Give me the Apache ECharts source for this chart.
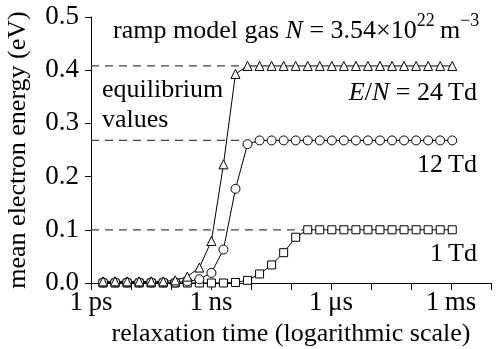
<!DOCTYPE html>
<html>
<head>
<meta charset="utf-8">
<script src="https://cdn.jsdelivr.net/npm/echarts@6/dist/echarts.min.js"></script>
<style>
  html, body { margin: 0; padding: 0; background: #fff; }
  #chart { width: 496px; height: 349px; }
</style>
</head>
<body>
<div id="chart"></div>
<script>
// relaxation times: 2^k ps, k = 1..30
var times = [];
for (var k = 1; k <= 30; k++) times.push(Math.pow(2, k) * 1e-12);

// mean electron energy (eV)
var td24 = [0.003, 0.003, 0.003, 0.003, 0.003, 0.003, 0.005, 0.012, 0.029, 0.079,
            0.223, 0.393, 0.408, 0.408, 0.408, 0.408, 0.408, 0.408, 0.408, 0.408,
            0.408, 0.408, 0.408, 0.408, 0.408, 0.408, 0.408, 0.408, 0.408, 0.408];
var td12 = [0.001, 0.001, 0.001, 0.001, 0.001, 0.001, 0.001, 0.003, 0.007, 0.019,
            0.063, 0.177, 0.261, 0.268, 0.268, 0.268, 0.268, 0.268, 0.268, 0.268,
            0.268, 0.268, 0.268, 0.268, 0.268, 0.268, 0.268, 0.268, 0.268, 0.268];
var td1 = [0, 0, 0, 0, 0, 0, 0, 0, 0, 0,
           0, 0.001, 0.005, 0.017, 0.034, 0.057, 0.086, 0.1, 0.1, 0.1,
           0.1, 0.1, 0.1, 0.1, 0.1, 0.1, 0.1, 0.1, 0.1, 0.1];

// equilibrium values and where their dashed guides stop
var equilibrium = [0.408, 0.268, 0.1];
var guideEnds = [6.3e-9, 6.3e-9, 2e-7];

var tickNames = { '-12': '1\u2009ps', '-9': '1\u2009ns', '-6': '1\u2009μs', '-3': '1\u2009ms' };

var FONT = 'Liberation Serif';
var FS = 26;
var TICK_FS = 27;

function pairs(ys) {
  return times.map(function (t, i) { return [t, ys[i]]; });
}

var chart = echarts.init(document.getElementById('chart'));

var series = [];
equilibrium.forEach(function (v, i) {
  series.push({
    type: 'line',
    data: [[1e-12, v], [guideEnds[i], v]],
    symbol: 'none',
    silent: true,
    z: 1,
    lineStyle: { color: '#444', width: 1.3, type: [8, 6] }
  });
});

function dataSeries(ys, symbol, size) {
  return {
    type: 'line',
    data: pairs(ys),
    symbol: symbol,
    symbolSize: size,
    showSymbol: true,
    z: 3,
    lineStyle: { color: '#000', width: 1 },
    itemStyle: { color: '#fff', borderColor: '#000', borderWidth: 1 }
  };
}
series.push(dataSeries(td1, 'rect', 8));
series.push(dataSeries(td12, 'circle', 9));
series.push(dataSeries(td24, 'triangle', 9));

chart.setOption({
  animation: false,
  backgroundColor: '#fff',
  textStyle: { fontFamily: FONT },
  grid: { left: 91, right: 5, top: 17, bottom: 66, containLabel: false, outerBoundsMode: 'none' },
  xAxis: {
    type: 'log',
    logBase: 10,
    min: 1e-12,
    max: 1e-2,
    splitNumber: 10,
    name: 'relaxation time (logarithmic scale)',
    nameLocation: 'middle',
    nameGap: 37,
    nameTextStyle: { fontFamily: FONT, fontSize: FS, color: '#000' },
    axisLine: { lineStyle: { color: '#000', width: 1 } },
    axisTick: { length: 7, lineStyle: { color: '#000' } },
    splitLine: { show: false },
    minorTick: { show: false },
    axisLabel: {
      fontFamily: FONT, fontSize: TICK_FS, color: '#000', margin: 6,
      showMinLabel: true, showMaxLabel: true,
      formatter: function (v) {
        var e = Math.round(Math.log10(v));
        return tickNames[String(e)] || '';
      }
    }
  },
  yAxis: {
    type: 'value',
    min: 0,
    max: 0.5,
    interval: 0.1,
    name: 'mean electron energy (eV)',
    nameLocation: 'middle',
    nameGap: 60,
    nameTextStyle: { fontFamily: FONT, fontSize: FS, color: '#000' },
    axisLine: { show: true, lineStyle: { color: '#000', width: 1 } },
    axisTick: { show: true, length: 6, lineStyle: { color: '#000' } },
    splitLine: { show: false },
    axisLabel: {
      fontFamily: FONT, fontSize: TICK_FS, color: '#000', margin: 12,
      formatter: function (v) { return v.toFixed(1); }
    }
  },
  series: series,
  graphic: [
    {
      type: 'text', x: 113, y: 31,
      style: {
        text: 'ramp model gas {i|N} = 3.54×10{sup|22}\u2009m{sup|−3}',
        font: FS + 'px ' + FONT, fill: '#000', verticalAlign: 'middle',
        rich: {
          i: { fontStyle: 'italic', fontFamily: FONT, fontSize: FS },
          sup: { fontFamily: FONT, fontSize: 18, lineHeight: 18, verticalAlign: 'bottom', padding: [0, 0, 14, 0] }
        }
      }
    },
    {
      type: 'text', x: 102, y: 90,
      style: { text: 'equilibrium', font: FS + 'px ' + FONT, fill: '#000', verticalAlign: 'middle' }
    },
    {
      type: 'text', x: 102, y: 120,
      style: { text: 'values', font: FS + 'px ' + FONT, fill: '#000', verticalAlign: 'middle' }
    },
    {
      type: 'text', x: 477, y: 93,
      style: {
        text: '{i|E}/{i|N} = 24\u2009Td',
        font: FS + 'px ' + FONT, fill: '#000', align: 'right', verticalAlign: 'middle',
        rich: { i: { fontStyle: 'italic', fontFamily: FONT, fontSize: FS } }
      }
    },
    {
      type: 'text', x: 477, y: 165,
      style: { text: '12\u2009Td', font: FS + 'px ' + FONT, fill: '#000', align: 'right', verticalAlign: 'middle' }
    },
    {
      type: 'text', x: 477, y: 254,
      style: { text: '1\u2009Td', font: FS + 'px ' + FONT, fill: '#000', align: 'right', verticalAlign: 'middle' }
    }
  ]
});
</script>
</body>
</html>
